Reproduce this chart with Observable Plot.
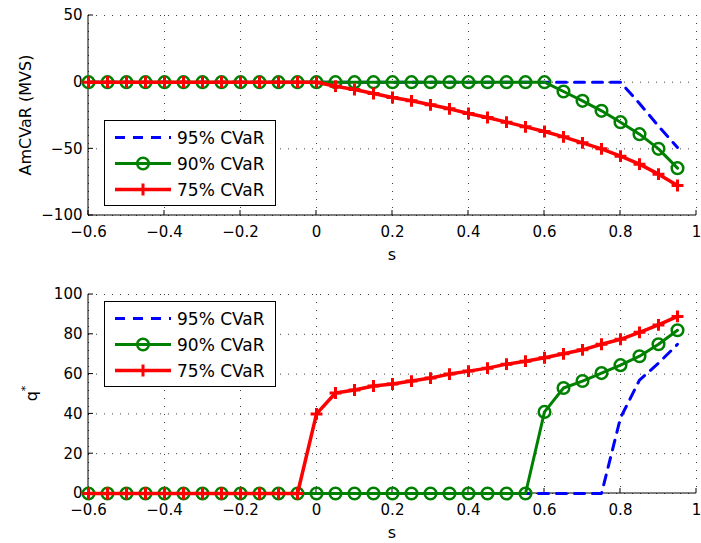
<!DOCTYPE html>
<html>
<head>
<meta charset="utf-8">
<script src="https://cdn.jsdelivr.net/npm/d3@7"></script>
<script src="https://cdn.jsdelivr.net/npm/@observablehq/plot@0.6"></script>
<style>
  body { margin: 0; background: #fff; }
  #chart { width: 701px; }
  #chart svg { display: block; }
</style>
</head>
<body>
<div id="chart"></div>
<script>
// Shape parameter s (shared by both panels)
const s = [-0.6, -0.55, -0.5, -0.45, -0.4, -0.35, -0.3, -0.25, -0.2, -0.15, -0.1, -0.05,
           0, 0.05, 0.1, 0.15, 0.2, 0.25, 0.3, 0.35, 0.4, 0.45, 0.5, 0.55,
           0.6, 0.65, 0.7, 0.75, 0.8, 0.85, 0.9, 0.95];

// Upper panel: AmCVaR (MVS)
const amcvar95 = [0, 0, 0, 0, 0, 0, 0, 0, 0, 0, 0, 0, 0, 0, 0, 0, 0, 0, 0, 0, 0, 0, 0, 0,
                  0, 0, 0, 0, 0, -16, -33, -49];
const amcvar90 = [0, 0, 0, 0, 0, 0, 0, 0, 0, 0, 0, 0, 0, 0, 0, 0, 0, 0, 0, 0, 0, 0, 0, 0,
                  0, -7, -14, -21.5, -30, -39, -50, -64.5];
const amcvar75 = [0, 0, 0, 0, 0, 0, 0, 0, 0, 0, 0, 0, 0, -3, -5.5, -8.5, -11.5, -14, -17, -20,
                  -23.5, -26.5, -30, -33.5, -37, -41, -45.5, -50, -55.5, -61.5, -69, -77.5];

// Lower panel: optimal order quantity q*
const q95 = [0, 0, 0, 0, 0, 0, 0, 0, 0, 0, 0, 0, 0, 0, 0, 0, 0, 0, 0, 0, 0, 0, 0, 0,
             0, 0, 0, 0, 38, 57, 65.5, 75];
const q90 = [0, 0, 0, 0, 0, 0, 0, 0, 0, 0, 0, 0, 0, 0, 0, 0, 0, 0, 0, 0, 0, 0, 0, 0,
             41, 53, 56.5, 60.5, 64.5, 69, 75, 82];
const q75 = [0, 0, 0, 0, 0, 0, 0, 0, 0, 0, 0, 0, 40, 50.5, 52, 54, 55, 56.5, 58, 60,
             61.5, 63, 65, 66.5, 68.2, 70.2, 72.2, 75, 77.5, 81, 84.7, 89];

const seriesLabels = ["95% CVaR", "90% CVaR", "75% CVaR"];
const seriesColors = ["#0000ff", "#008000", "#ff0000"];

const xTicks = [-0.6, -0.4, -0.2, 0, 0.2, 0.4, 0.6, 0.8, 1];
const yTicksTop = [-100, -50, 0, 50];
const yTicksBottom = [0, 20, 40, 60, 80, 100];
const xLabel = "s";

const FONT = "DejaVu Sans";
const fmt = d => (d < 0 ? "\u2212" : "") + String(Math.abs(d));

// Axis lines (left and bottom) with inward ticks, as in a classic figure window
function axesFrame(yTicks) {
  return (index, scales, values, dimensions) => {
    const {x, y} = scales;
    const {width, height, marginLeft, marginRight, marginTop, marginBottom} = dimensions;
    const left = marginLeft, right = width - marginRight;
    const top = marginTop, bottom = height - marginBottom;
    const g = d3.create("svg:g")
      .attr("stroke", "#000").attr("stroke-width", 1).attr("fill", "none");
    g.append("line").attr("x1", left).attr("x2", left).attr("y1", top).attr("y2", bottom);
    g.append("line").attr("x1", left).attr("x2", right).attr("y1", bottom).attr("y2", bottom);
    for (const t of xTicks) {
      const px = x(t);
      g.append("line").attr("x1", px).attr("x2", px).attr("y1", bottom).attr("y2", bottom - 5);
    }
    for (const t of yTicks) {
      const py = y(t);
      g.append("line").attr("x1", left).attr("x2", left + 5).attr("y1", py).attr("y2", py);
    }
    return g.node();
  };
}

// Axis titles: x title centred under the frame, y title rotated along the left edge
function axisTitles(yTitle, yTitleOffset, superscript) {
  return (index, scales, values, dimensions) => {
    const {width, height, marginLeft, marginRight, marginTop, marginBottom} = dimensions;
    const cx = (marginLeft + width - marginRight) / 2;
    const cy = (marginTop + height - marginBottom) / 2;
    const bottom = height - marginBottom;
    const g = d3.create("svg:g")
      .attr("font-family", FONT).attr("font-size", 16).attr("fill", "#000");
    g.append("text").attr("x", cx).attr("y", bottom + 45)
      .attr("text-anchor", "middle").text(xLabel);
    const t = g.append("text")
      .attr("transform", `translate(${marginLeft - yTitleOffset},${cy}) rotate(-90)`)
      .attr("text-anchor", "middle")
      .text(yTitle);
    if (superscript) {
      t.append("tspan").attr("font-size", 11).attr("dy", -8).text(superscript);
    }
    return g.node();
  };
}

// Boxed legend with line/marker samples
function legendBox(boxTop) {
  return () => {
    const g = d3.create("svg:g").attr("font-family", FONT).attr("font-size", 17);
    g.append("rect")
      .attr("x", 104.5).attr("y", boxTop + 0.5).attr("width", 171).attr("height", 85)
      .attr("fill", "#fff").attr("stroke", "#000").attr("stroke-width", 1);
    seriesLabels.forEach((label, i) => {
      const yy = boxTop + 17.5 + i * 26;
      const color = seriesColors[i];
      const ln = g.append("line")
        .attr("x1", 115).attr("x2", 171).attr("y1", yy).attr("y2", yy)
        .attr("stroke", color).attr("stroke-width", i === 2 ? 3.5 : 3);
      if (i === 0) ln.attr("stroke-dasharray", "10,8");
      if (i === 1) {
        g.append("circle").attr("cx", 143).attr("cy", yy).attr("r", 5.8)
          .attr("fill", "none").attr("stroke", color).attr("stroke-width", 2.5);
      }
      if (i === 2) {
        g.append("path").attr("d", `M137,${yy}H149M143,${yy - 6}V${yy + 6}`)
          .attr("stroke", color).attr("stroke-width", 3).attr("fill", "none");
      }
      g.append("text").attr("x", 177).attr("y", yy).attr("dy", "0.36em")
        .attr("text-anchor", "start").attr("fill", "#000").text(label);
    });
    return g.node();
  };
}

function panel({series, yDomain, yTicks, height, marginTop, marginBottom, legendTop, yTitle, yTitleOffset, superscript}) {
  const rows = series.map(vals => s.map((sv, i) => ({s: sv, v: vals[i]})));
  const gridStyle = {stroke: "#000", strokeOpacity: 0.75, strokeWidth: 1, strokeDasharray: "1,7"};
  return Plot.plot({
    width: 701,
    height,
    marginLeft: 88,
    marginRight: 5,
    marginTop,
    marginBottom,
    style: {fontFamily: FONT, fontSize: "15px", color: "#000", background: "#fff", overflow: "visible"},
    x: {domain: [-0.6, 1]},
    y: {domain: yDomain},
    marks: [
      Plot.gridX(xTicks, gridStyle),
      Plot.gridY(yTicks, gridStyle),
      Plot.axisX(xTicks, {tickSize: 0, tickPadding: 11, tickFormat: fmt, label: null, fontSize: 15}),
      Plot.axisY(yTicks, {tickSize: 0, tickPadding: 6, tickFormat: fmt, label: null, fontSize: 15}),
      axesFrame(yTicks),
      Plot.line(rows[0], {x: "s", y: "v", stroke: seriesColors[0], strokeWidth: 3, strokeDasharray: "10,8"}),
      Plot.line(rows[1], {x: "s", y: "v", stroke: seriesColors[1], strokeWidth: 3}),
      Plot.dot(rows[1], {x: "s", y: "v", r: 5.8, stroke: seriesColors[1], strokeWidth: 2.5, fill: "none"}),
      Plot.line(rows[2], {x: "s", y: "v", stroke: seriesColors[2], strokeWidth: 3.5}),
      Plot.dot(rows[2], {x: "s", y: "v", symbol: "plus", r: 3.9, stroke: seriesColors[2], strokeWidth: 3}),
      axisTitles(yTitle, yTitleOffset, superscript),
      legendBox(legendTop)
    ]
  });
}

const chart = document.getElementById("chart");
chart.append(panel({
  series: [amcvar95, amcvar90, amcvar75],
  yDomain: [-100, 50],
  yTicks: yTicksTop,
  height: 270,
  marginTop: 15,
  marginBottom: 55,
  legendTop: 120,
  yTitle: "AmCVaR (MVS)",
  yTitleOffset: 57
}));
chart.append(panel({
  series: [q95, q90, q75],
  yDomain: [0, 100],
  yTicks: yTicksBottom,
  height: 273,
  marginTop: 24,
  marginBottom: 50,
  legendTop: 31,
  yTitle: "q",
  yTitleOffset: 51,
  superscript: "*"
}));
</script>
</body>
</html>
